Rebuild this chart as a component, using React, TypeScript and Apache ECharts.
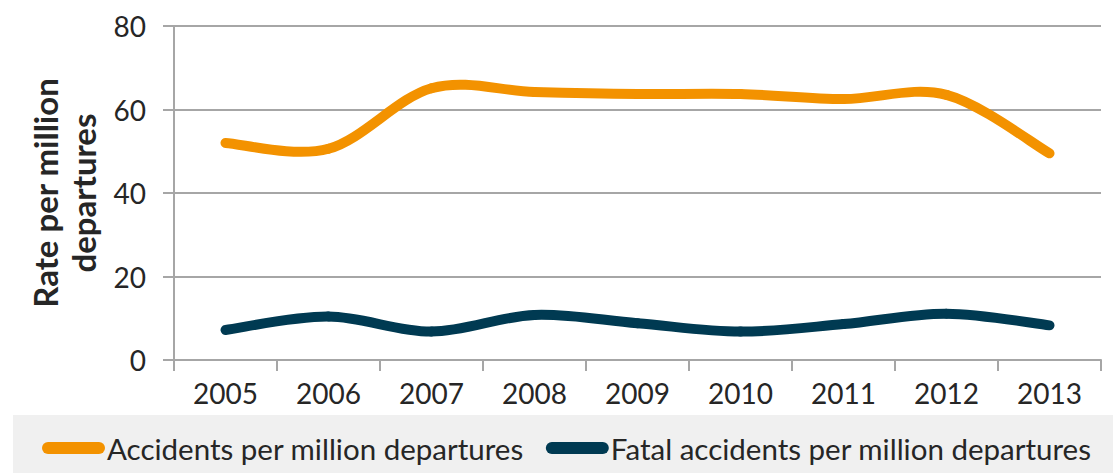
import React, { useEffect, useRef } from "react";
import * as echarts from "echarts";

const years = ["2005", "2006", "2007", "2008", "2009", "2010", "2011", "2012", "2013"];
const accidents = [52.0, 50.6, 65.1, 64.2, 63.7, 63.7, 62.5, 63.5, 49.5];
const fatalAccidents = [7.2, 10.4, 6.8, 10.8, 8.8, 6.8, 8.6, 11.1, 8.3];
const seriesNames = ["Accidents per million departures", "Fatal accidents per million departures"];
const yTicks = { min: 0, max: 80, interval: 20 };

const FONT = "Lato";
const TEXT = "#262626";
const GRID = "#A6A6A6";
const ORANGE = "#F39200";
const NAVY = "#003A52";
const capsule = "path://M6,0 H57 A6,6 0 0 1 57,12 H6 A6,6 0 0 1 6,0 Z";

function smoothSeries(name: string, values: number[], color: string) {
  const n = values.length;
  return {
    name,
    type: "custom",
    data: values.map((v, i) => [i, v]),
    encode: { x: 0, y: 1 },
    itemStyle: { color },
    renderItem: (params: any, api: any) => {
      const i = params.dataIndex;
      if (i >= n - 1) return { type: "group", children: [] };
      const P = (k: number) => {
        const c = Math.max(0, Math.min(n - 1, k));
        return api.coord([c, values[c]]);
      };
      const p0 = P(i - 1);
      const p1 = P(i);
      const p2 = P(i + 1);
      const p3 = P(i + 2);
      const cp1x = p1[0] + (p2[0] - p0[0]) / 6;
      const cp1y = p1[1] + (p2[1] - p0[1]) / 6;
      const cp2x = p2[0] - (p3[0] - p1[0]) / 6;
      const cp2y = p2[1] - (p3[1] - p1[1]) / 6;
      return {
        type: "bezierCurve",
        shape: { x1: p1[0], y1: p1[1], x2: p2[0], y2: p2[1], cpx1: cp1x, cpy1: cp1y, cpx2: cp2x, cpy2: cp2y },
        style: { stroke: color, lineWidth: 10, lineCap: "round", fill: null },
      };
    },
  };
}

export default function App() {
  const ref = useRef<HTMLDivElement>(null);
  useEffect(() => {
    if (!ref.current) return;
    const chart = echarts.init(ref.current, undefined, { renderer: "svg" });
    chart.setOption({
      animation: false,
      backgroundColor: "#ffffff",
      textStyle: { fontFamily: FONT, color: TEXT },
      grid: { left: 174, right: 12, top: 26, bottom: 113, containLabel: false },
      graphic: [
        {
          type: "rect",
          z: -10,
          shape: { x: 13, y: 415, width: 1100, height: 58 },
          style: { fill: "#F0F0F0" },
          silent: true,
        },
      ],
      legend: {
        left: 37,
        top: 428,
        itemWidth: 63,
        itemHeight: 12,
        itemGap: 22,
        icon: capsule,
        textStyle: { fontFamily: FONT, fontSize: 29.5, color: TEXT, padding: [0, 0, 0, -3] },
        data: seriesNames,
      },
      xAxis: {
        type: "category",
        data: years,
        boundaryGap: true,
        axisLine: { show: true, lineStyle: { color: GRID, width: 2 } },
        axisTick: { show: true, length: 11, lineStyle: { color: GRID, width: 2 } },
        axisLabel: { fontFamily: FONT, fontSize: 28, color: TEXT, margin: 19 },
        splitLine: { show: false },
      },
      yAxis: {
        type: "value",
        min: yTicks.min,
        max: yTicks.max,
        interval: yTicks.interval,
        name: "Rate per million\ndepartures",
        nameLocation: "middle",
        nameRotate: 90,
        nameGap: 72,
        nameTextStyle: { fontFamily: FONT, fontSize: 33, fontWeight: "bold", color: TEXT, lineHeight: 38 },
        axisLine: { show: true, lineStyle: { color: GRID, width: 2 } },
        axisTick: { show: true, length: 11, lineStyle: { color: GRID, width: 2 } },
        axisLabel: { fontFamily: FONT, fontSize: 28, color: TEXT, margin: 28 },
        splitLine: { show: true, lineStyle: { color: GRID, width: 2 } },
      },
      series: [
        smoothSeries(seriesNames[0], accidents, ORANGE),
        smoothSeries(seriesNames[1], fatalAccidents, NAVY),
      ],
    });
    return () => chart.dispose();
  }, []);
  return (
    <div
      ref={ref}
      style={{ position: "fixed", left: 0, top: 0, width: 1113, height: 473 }}
    />
  );
}
